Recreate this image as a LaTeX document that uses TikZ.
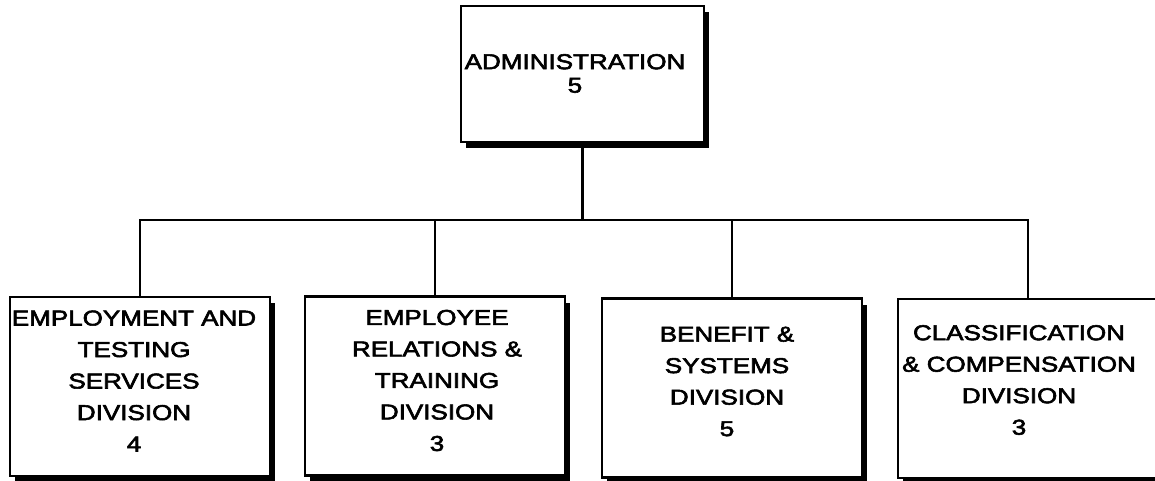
\documentclass[tikz,border=0pt]{standalone}
\usepackage{fontspec}
\setmainfont{Liberation Sans}
\newfontfamily\orgfont[FakeBold=2.5]{Liberation Sans}
\usetikzlibrary{shadows}
\begin{document}
\begin{tikzpicture}[x=1pt,y=-1pt,
  orgbox/.style={draw, line width=2.2pt, fill=white, inner sep=0pt,
    minimum width=260pt, minimum height=179pt,
    drop shadow={shadow xshift=5pt, shadow yshift=-6pt, opacity=1, fill=black}},
  lbl/.style={align=center, xscale=1.21, inner sep=0pt,
    font=\orgfont\fontsize{21.5}{31.5}\selectfont},
  conn/.style={line width=2.1pt}]
\useasboundingbox (0,0) rectangle (1155,480);
% boxes
\node[orgbox, minimum width=243pt, minimum height=136pt] (admin) at (582.5,74) {};
\node[orgbox] (b1) at (140,386.5) {};
\node[orgbox] (b2) at (435,386) {};
\node[orgbox] (b3) at (732,388) {};
\node[orgbox] (b4) at (1028,388.5) {};
% labels
\node[lbl, font=\orgfont\fontsize{21.5}{23.5}\selectfont] (tadmin) at (575,73.5) {ADMINISTRATION\\5};
\node[lbl] (t1) at (134,381) {EMPLOYMENT AND\\TESTING\\SERVICES\\DIVISION\\4};
\node[lbl] (t2) at (437,380.5) {EMPLOYEE\\RELATIONS \&\\TRAINING\\DIVISION\\3};
\node[lbl] (t3) at (727,381.5) {BENEFIT \&\\SYSTEMS\\DIVISION\\5};
\node[lbl] (t4) at (1019,380) {CLASSIFICATION\\\& COMPENSATION\\DIVISION\\3};
% connectors
\coordinate (bus) at (582.5,220);
\draw[conn] (admin.south) -- (bus);
\draw[conn] (bus) -| (b1.north);
\draw[conn] (bus) -| (b2.north);
\draw[conn] (bus) -| (b3.north);
\draw[conn] (bus) -| (b4.north);
\end{tikzpicture}
\end{document}
